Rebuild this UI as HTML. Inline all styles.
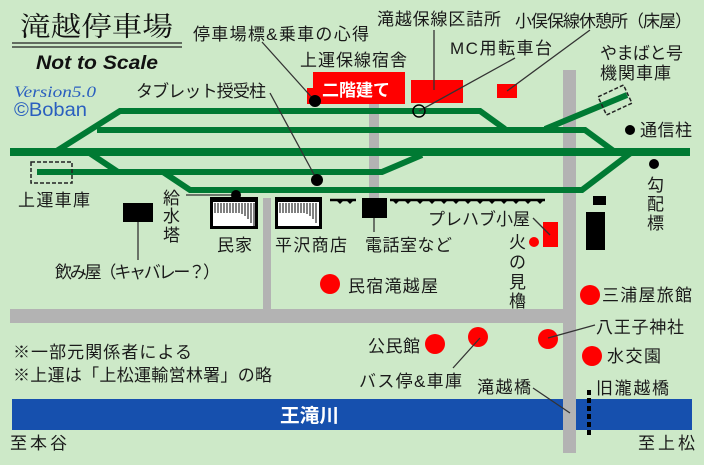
<!DOCTYPE html>
<html><head><meta charset="utf-8"><style>
html,body{margin:0;padding:0;background:#cde9c8;}
svg{display:block;font-family:"Liberation Sans","Noto Sans CJK JP",sans-serif;}
.t{font-size:17px;fill:#1a1a1a;}
</style></head><body>
<svg width="704" height="465" viewBox="0 0 704 465" xmlns="http://www.w3.org/2000/svg">
<rect width="704" height="465" fill="#cde9c8"/>
<g fill="#b3b3b3">
<rect x="369" y="100" width="10" height="100"/>
<rect x="263" y="198" width="8" height="112"/>
<rect x="10" y="309" width="566" height="14"/>
<rect x="563" y="70" width="13" height="383"/>
</g>
<rect x="12" y="399" width="680" height="31" fill="#1650ae"/>
<rect x="563" y="399" width="13" height="31" fill="#b3b3b3"/>
<line x1="589" y1="390" x2="589" y2="437" stroke="#000" stroke-width="4" stroke-dasharray="5,3"/>
<text x="280" y="422" font-size="19" font-weight="bold" fill="#fff" textLength="59" lengthAdjust="spacingAndGlyphs">王滝川</text>
<g stroke="#007a33" fill="none" stroke-linejoin="miter">
<line x1="10" y1="152" x2="690" y2="152" stroke-width="8"/>
<polyline points="55,152 120,111 480,111 505,129" stroke-width="6"/>
<polyline points="97,130 585,130 615,152" stroke-width="6"/>
<polyline points="37,172 382,172 422,155" stroke-width="6"/>
<polyline points="88,152 118,172" stroke-width="6"/>
<polyline points="163,172 190,190 582,190 632,152" stroke-width="6"/>
<polyline points="545,129 627,95" stroke-width="6"/>
</g>
<rect x="31" y="162" width="41" height="21" fill="none" stroke="#222" stroke-width="1.5" stroke-dasharray="4,2"/>
<rect x="-14" y="-10" width="28" height="20" fill="none" stroke="#222" stroke-width="1.5" stroke-dasharray="4,2" transform="translate(615,100) rotate(-25)"/>
<g fill="#f00">
<polygon points="313,72 405,72 405,104 307,104 307,88 313,88"/>
<rect x="411" y="80" width="52" height="23"/>
<rect x="497" y="84" width="20" height="14"/>
<rect x="543" y="222" width="15" height="25"/>
<circle cx="534" cy="242" r="5"/>
<circle cx="330" cy="284" r="10"/>
<circle cx="435" cy="344" r="10"/>
<circle cx="478" cy="337" r="10"/>
<circle cx="548" cy="339" r="10"/>
<circle cx="590" cy="295" r="10"/>
<circle cx="592" cy="356" r="10"/>
</g>
<text x="322" y="96" font-size="17" font-weight="bold" fill="#fff" textLength="68" lengthAdjust="spacingAndGlyphs">二階建て</text>
<g stroke="#333" stroke-width="1.3">
<line x1="262" y1="42" x2="315" y2="101"/>
<line x1="270" y1="93" x2="317" y2="180"/>
<line x1="186" y1="195" x2="236" y2="195"/>
<line x1="434" y1="30" x2="434" y2="90"/>
<line x1="515" y1="58" x2="419" y2="111"/>
<line x1="590" y1="30" x2="507" y2="91"/>
<line x1="533" y1="218" x2="550" y2="235"/>
<line x1="595" y1="325" x2="548" y2="338"/>
<line x1="480" y1="338" x2="453" y2="368"/>
<line x1="533" y1="388" x2="570" y2="413"/>
<line x1="138" y1="212" x2="138" y2="260"/>
<line x1="374" y1="208" x2="374" y2="232"/>
</g>
<circle cx="419" cy="111" r="6" fill="none" stroke="#000" stroke-width="1.5"/>
<g fill="#000">
<circle cx="315" cy="101" r="6"/>
<circle cx="317" cy="180" r="6"/>
<circle cx="236" cy="195" r="5"/>
<circle cx="630" cy="130" r="5"/>
<circle cx="654" cy="164" r="5"/>
<rect x="123" y="203" width="30" height="19"/>
<rect x="362" y="198" width="25" height="20"/>
<rect x="593" y="196" width="13" height="9"/>
<rect x="586" y="212" width="19" height="38"/>
</g>
<g>
<rect x="210" y="197" width="48" height="32" fill="#000"/>
<rect x="213" y="202" width="42" height="24" fill="#fff"/>
<rect x="275" y="197" width="47" height="32" fill="#000"/>
<rect x="278" y="202" width="41" height="24" fill="#fff"/>
<g stroke="#000" stroke-width="1">
<path d="M215 203v10M218 203v10M221 203v10M224 203v10M227 203v10M230 203v10M233 203v10M236 203v10M239 203v10M242 203v11M245 203v13M248 203v16M251 203v20M254 203v23"/>
<path d="M280 203v10M283 203v10M286 203v10M289 203v10M292 203v10M295 203v10M298 203v10M301 203v10M304 203v10M307 203v11M310 203v13M313 203v16M316 203v20"/>
</g>
</g>
<g stroke="#000" stroke-width="2.5" fill="#000">
<line x1="330" y1="200" x2="356" y2="200"/>
<line x1="390" y1="200" x2="545" y2="200"/>
</g>
<g fill="#000">
<path d="M336 200l4 4 4-4zM346 200l4 4 4-4zM392 200l4 4 4-4zM404 200l4 4 4-4zM416 200l4 4 4-4zM428 200l4 4 4-4zM440 200l4 4 4-4zM452 200l4 4 4-4zM464 200l4 4 4-4zM476 200l4 4 4-4zM488 200l4 4 4-4zM500 200l4 4 4-4zM512 200l4 4 4-4zM524 200l4 4 4-4zM536 200l4 4 4-4z"/>
</g>
<text x="20" y="36" font-size="27" fill="#111" font-family="'Liberation Serif','Noto Serif CJK SC',serif" textLength="153" lengthAdjust="spacingAndGlyphs">滝越停車場</text>
<line x1="12" y1="43" x2="182" y2="43" stroke="#222" stroke-width="1.3"/>
<line x1="12" y1="47" x2="182" y2="47" stroke="#222" stroke-width="1.3"/>
<text x="36" y="69" font-size="19" font-style="italic" font-weight="bold" fill="#111" textLength="122" lengthAdjust="spacingAndGlyphs">Not to Scale</text>
<text x="14" y="97" font-size="16" font-style="italic" fill="#2a5fbf" font-family="'Liberation Serif',serif" textLength="82" lengthAdjust="spacingAndGlyphs">Version5.0</text>
<text x="14" y="116" font-size="19" fill="#2a5fbf" textLength="73" lengthAdjust="spacingAndGlyphs">©Boban</text>
<g class="t" lengthAdjust="spacingAndGlyphs">
<text x="193" y="40" textLength="176">停車場標&amp;乗車の心得</text>
<text x="300" y="66" textLength="107">上運保線宿舎</text>
<text x="377" y="25" textLength="124">滝越保線区詰所</text>
<text x="450" y="54" textLength="102">MC用転車台</text>
<text x="515" y="27" textLength="177">小俣保線休憩所（床屋）</text>
<text x="600" y="59" textLength="83">やまばと号</text>
<text x="600" y="79" textLength="71">機関車庫</text>
<text x="640" y="136" textLength="52">通信柱</text>
<text x="647" y="191">勾</text><text x="647" y="210">配</text><text x="647" y="229">標</text>
<text x="136" y="97" textLength="130">タブレット授受柱</text>
<text x="18" y="206" textLength="72">上運車庫</text>
<text x="163" y="204">給</text><text x="163" y="222">水</text><text x="163" y="241">塔</text>
<text x="217" y="251" textLength="35">民家</text>
<text x="275" y="251" textLength="72">平沢商店</text>
<text x="365" y="251" textLength="87">電話室など</text>
<text x="428" y="225" textLength="102">プレハブ小屋</text>
<text x="509" y="248">火</text><text x="509" y="268">の</text><text x="509" y="288">見</text><text x="509" y="307">櫓</text>
<text x="55" y="278" textLength="165">飲み屋（キャバレー？）</text>
<text x="348" y="292" textLength="90">民宿滝越屋</text>
<text x="602" y="301" textLength="90">三浦屋旅館</text>
<text x="596" y="333" textLength="88">八王子神社</text>
<text x="607" y="362" textLength="54">水交園</text>
<text x="368" y="352" textLength="52">公民館</text>
<text x="359" y="387" textLength="103">バス停&amp;車庫</text>
<text x="477" y="393" textLength="54">滝越橋</text>
<text x="596" y="394" textLength="73">旧瀧越橋</text>
<text x="13" y="358" textLength="179">※一部元関係者による</text>
<text x="13" y="381" textLength="259">※上運は「上松運輸営林署」の略</text>
<text x="10" y="449" textLength="57">至本谷</text>
<text x="638" y="449" textLength="57">至上松</text>
</g>
</svg>
</body></html>
